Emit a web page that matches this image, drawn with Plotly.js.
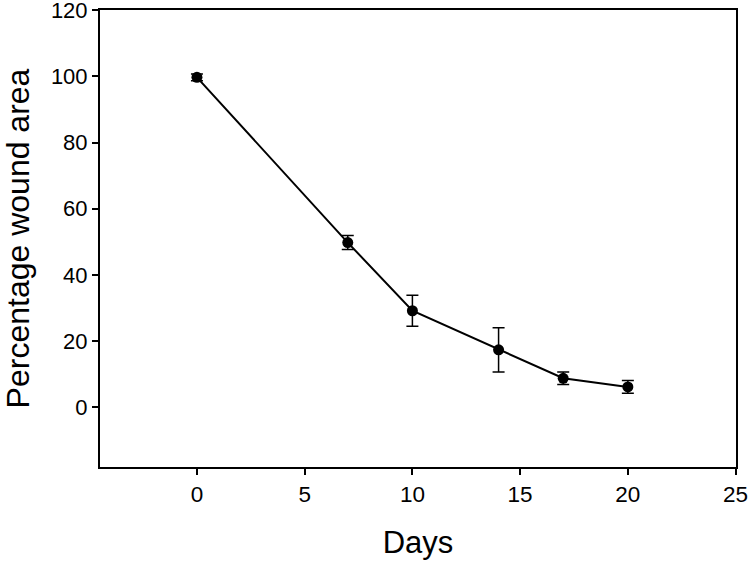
<!DOCTYPE html>
<html>
<head>
<meta charset="utf-8">
<script src="https://cdn.plot.ly/plotly-3.0.1.min.js"></script>
<style>html,body{margin:0;padding:0;background:#fff;}#chart{width:748px;height:563px;}</style>
</head>
<body>
<div id="chart"></div>
<script>
const days = [0, 7, 10, 14, 17, 20];
const woundArea = [99.7, 49.8, 29.2, 17.4, 8.8, 6.2];
const woundErr = [1.0, 2.1, 4.7, 6.7, 1.9, 1.9];
const xTicks = [0, 5, 10, 15, 20, 25];
const yTicks = [0, 20, 40, 60, 80, 100, 120];

const FAM = 'Liberation Sans, Arial, sans-serif';

const trace = {
  x: days,
  y: woundArea,
  type: 'scatter',
  mode: 'lines+markers',
  line: {color: '#000', width: 2},
  marker: {color: '#000', size: 11, symbol: 'circle'},
  error_y: {type: 'data', array: woundErr, visible: true, color: '#000', thickness: 1.5, width: 6},
  showlegend: false
};

const layout = {
  width: 748, height: 563,
  margin: {l: 100, r: 12, t: 10, b: 96},
  paper_bgcolor: '#fff', plot_bgcolor: '#fff',
  font: {family: FAM, size: 22, color: '#000'},
  xaxis: {
    range: [-4.5, 25.02],
    tickmode: 'array',
    tickvals: xTicks, ticktext: xTicks.map(String),
    ticks: 'outside', ticklen: 6, tickwidth: 2, tickcolor: '#000',
    showline: true, linecolor: '#000', linewidth: 2, mirror: true,
    showgrid: false, zeroline: false,
    tickfont: {family: FAM, size: 22.5, color: '#000'},
    ticklabeloverflow: 'allow',
    title: {text: 'Days', font: {family: FAM, size: 31, color: '#000'}, standoff: 25},
    automargin: false
  },
  yaxis: {
    range: [-18, 120.05],
    tickmode: 'array',
    tickvals: yTicks, ticktext: yTicks.map(String),
    ticks: 'outside', ticklen: 6, tickwidth: 2, tickcolor: '#000',
    showline: true, linecolor: '#000', linewidth: 2, mirror: true,
    showgrid: false, zeroline: false,
    tickfont: {family: FAM, size: 22, color: '#000'},
    ticklabeloverflow: 'allow',
    title: {text: 'Percentage wound area', font: {family: FAM, size: 32, color: '#000'}, standoff: 17},
    automargin: false
  }
};

Plotly.newPlot('chart', [trace], layout, {displayModeBar: false, staticPlot: true});
</script>
</body>
</html>
